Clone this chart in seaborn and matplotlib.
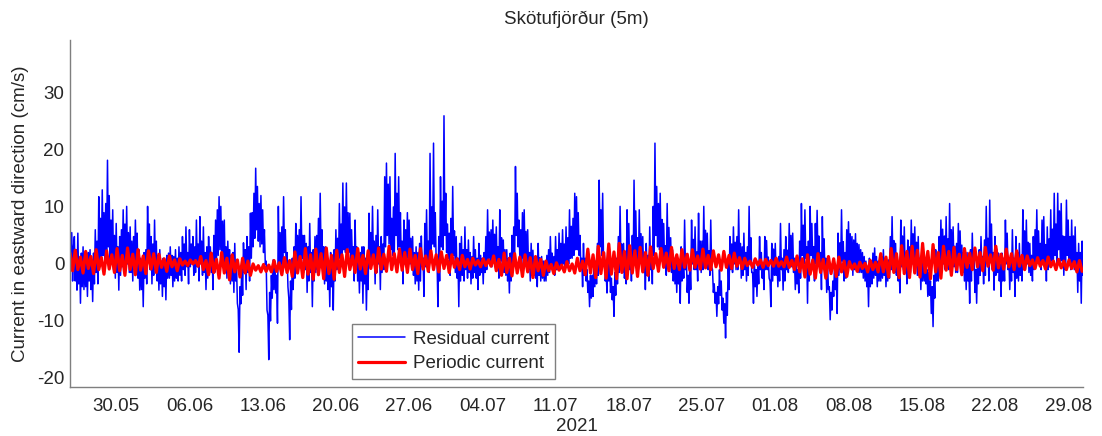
import numpy as np
import pandas as pd
import matplotlib
matplotlib.use("Agg")
import matplotlib.pyplot as plt
import seaborn as sns

# ---------------- data ----------------
title = "Skötufjörður (5m)"
ylabel = "Current in eastward direction (cm/s)"
xlabel = "2021"
series_names = ["Residual current", "Periodic current"]

# residual current, 2-hourly from 2021-05-25 14:00 (cm/s); one line per day
residual = [
    7.1, -1.0, 5.5, -3.0, 3.0,
    4.8, -3.0, 2.5, -4.6, 5.4, -3.5, 1.0, -6.9, 1.9, -4.0, 3.0, -4.5,
    1.3, -4.0, 0.5, -5.7, 2.0, -3.0, 2.5, -4.5, 0.0, -6.6, 1.9, -3.5,
    6.0, -1.5, 4.0, -3.5, 11.8, 0.5, 8.0, 1.0, 13.0, 1.5, 9.0, -0.5,
    10.6, 2.0, 18.2, 3.0, 12.0, 0.5, 7.7, 1.0, 9.5, -1.0, 5.0, -2.5,
    7.1, -1.5, 3.0, -4.6, 4.8, -2.0, 6.0, -0.5, 9.5, 0.0, 7.0, 0.0,
    10.1, 0.0, 5.5, -1.5, 6.5, -1.5, 4.0, -3.0, 4.8, -1.0, 7.7, 0.5,
    5.4, -2.5, 2.5, -4.6, 1.0, -4.5, 0.5, -7.5, 2.0, -2.5, 2.5, -3.5,
    10.1, 1.0, 7.0, -1.0, 4.8, -3.5, 3.5, -2.0, 7.7, -1.0, 4.0, -3.0,
    1.5, -4.6, 2.5, -3.5, 0.5, -5.7, 1.0, -4.0, 0.5, -6.3, 1.5, -2.5,
    1.9, -2.5, 3.0, -2.0, 1.5, -4.0, 1.3, -3.0, 2.5, -2.5, 1.0, -3.0,
    3.0, -2.0, 2.0, -3.0, 4.8, -1.0, 3.5, -2.0, 6.5, -0.5, 2.0, -3.5,
    6.0, -0.5, 3.5, 0.0, 4.8, -2.0, 3.0, -1.5, 7.7, -0.5, 3.5, -3.0,
    8.3, 0.0, 4.0, -2.0, 6.5, -1.5, 2.0, -4.5, 3.0, -2.5, 4.8, -0.5,
    3.0, -1.5, 1.9, -4.5, 5.0, -1.5, 7.7, 0.0, 9.5, 1.5, 11.8, 2.5,
    10.1, 1.5, 7.5, 1.0, 7.7, -1.0, 3.0, -2.5, 4.0, -1.5, 2.5, -3.5,
    1.5, -3.0, 2.0, -5.0, 3.6, -3.0, 0.0, -6.9, -8.0, -15.5, -4.0, -7.0,
    -0.5, -5.5, 3.7, -1.5, 2.5, -4.5, 4.8, -1.5, 3.0, -3.0, 8.9, 1.0,
    9.0, 3.0, 12.4, 4.5, 16.8, 6.0, 13.6, 4.0, 10.6, 3.0, 12.0, 3.5,
    9.5, 2.0, 6.0, 0.0, 0.5, -8.1, -9.0, -16.8, -5.0, -10.0, -2.0, -6.0,
    0.7, -4.5, 0.5, -5.1, -2.0, -10.4, 10.1, -0.5, 5.5, -1.5, 6.5, 0.0,
    11.8, 2.0, 6.0, -0.5, 2.0, -4.0, -6.0, -13.3, -3.0, -8.0, 1.0, -4.5,
    3.0, -2.5, 7.1, 0.0, 5.0, -1.0, 6.0, 0.0, 11.8, 1.0, 5.0, -1.5,
    5.0, -1.0, 3.6, -5.0, 3.0, -3.0, 7.1, -1.5, 2.0, -7.5, 2.5, -3.0,
    4.8, -1.5, 5.0, -1.0, 8.0, 0.0, 12.4, 1.5, 6.0, -1.5, 3.0, -3.5,
    3.0, -3.0, 1.5, -4.5, 0.0, -7.5, 2.0, -4.0, -1.5, -8.1, 2.5, -3.0,
    6.0, -1.0, 4.5, -1.0, 10.6, 1.0, 7.0, 1.5, 14.2, 2.5, 10.0, 2.0,
    14.2, 2.5, 9.0, 2.0, 8.9, 0.5, 6.0, 0.0, 3.0, -3.0, 7.7, 0.0,
    3.0, -3.0, 1.0, -5.1, 2.0, -3.0, 3.0, -6.9, 3.0, -3.5, 1.0, -8.1,
    0.7, -4.5, 8.9, 0.0, 5.5, 0.0, 10.1, 1.0, 4.0, -3.5, 5.0, -1.5,
    9.5, 0.0, 3.0, -4.5, 4.8, -1.5, 3.5, -1.0, 15.3, 3.0, 17.7, 5.0,
    14.0, 3.5, 15.3, 2.5, 8.0, 1.5, 10.0, 1.5, 19.4, 5.0, 12.4, 2.5,
    15.3, 3.0, 9.0, 0.0, 4.0, -3.5, 7.7, 0.0, 6.0, 0.0, 9.0, 1.0,
    7.7, 0.0, 4.5, -1.0, 4.8, -2.0, 2.0, -3.5, 3.0, -3.0, 2.0, -4.6,
    3.6, -3.0, 4.9, -0.5, 1.0, -5.7, 7.1, -0.5, 9.5, 0.0, 4.0, -1.5,
    19.4, 2.5, 10.0, 3.5, 21.2, 3.0, 9.0, 0.5, 1.0, -7.5, 4.8, -3.0,
    15.3, 3.0, 11.0, 2.5, 26.0, 5.0, 12.4, 2.0, 7.0, 1.0, 5.4, -2.0,
    8.0, 0.5, 13.6, 1.5, 5.8, -1.5, 4.8, -2.5, 1.0, -7.5, 3.6, -3.0,
    4.8, -2.0, 2.5, -3.0, 6.5, -1.0, 2.5, -2.5, 4.2, -1.5, 2.0, -3.5,
    1.3, -2.5, 4.8, -1.5, 2.5, -2.5, 1.0, -4.5, 3.6, -2.0, 1.5, -1.5,
    1.0, -3.5, 2.0, -1.5, 4.8, -1.0, 9.5, 1.0, 5.6, 0.0, 6.0, -0.5,
    7.7, 0.5, 5.2, 0.0, 6.5, -1.0, 3.0, -2.5, 9.5, 0.5, 4.6, -1.0,
    4.2, -1.5, 2.5, -2.0, 2.5, -3.0, 1.0, -5.1, 1.9, -3.0, 5.0, -0.5,
    6.5, 0.0, 17.1, 5.0, 12.4, 3.0, 7.7, 1.0, 6.0, 0.0, 9.0, 1.0,
    9.5, 1.0, 5.7, 0.0, 6.0, -1.0, 2.0, -3.0, 3.6, -2.0, 2.4, -2.0,
    1.0, -2.5, 0.5, -4.0, 3.6, -2.0, 1.1, -3.0, 1.3, -2.5, 0.5, -3.0,
    0.5, -3.0, 1.5, -2.0, 2.5, -1.5, 4.8, -0.5, 1.9, -1.5, 1.3, -2.0,
    4.8, -1.0, 2.5, -1.0, 5.4, -0.5, 3.6, -0.5, 6.0, 0.0, 3.5, -1.0,
    6.5, 0.0, 4.6, 0.0, 9.5, 1.0, 6.6, 1.0, 8.0, 1.5, 12.4, 2.5,
    11.8, 2.5, 9.0, 1.5, 5.0, -1.0, 1.0, -4.0, 3.6, -2.0, 1.0, -3.0,
    -1.0, -5.0, -3.0, -7.5, -2.0, -6.0, -2.0, -5.7, 0.7, -4.0, 0.5, -3.5,
    3.6, -2.0, 14.7, 3.0, 9.5, 1.5, 12.4, 0.5, 2.0, -3.0, -1.5, -5.1,
    2.5, -3.0, 0.5, -5.0, -2.5, -6.3, -4.0, -9.2, -1.5, -5.5, 1.0, -3.5,
    4.8, -1.5, 10.1, 0.0, 3.5, -1.5, 3.6, -2.5, 1.0, -3.5, 9.5, 0.0,
    7.1, -1.0, 2.6, -3.0, 5.0, -1.0, 14.7, 2.5, 9.3, 0.5, 4.6, -1.0,
    9.5, 0.5, 5.3, -0.5, 4.8, -1.5, 1.5, -4.5, 3.6, -2.0, 1.5, -3.0,
    6.5, -1.0, 3.0, -3.5, 10.1, 1.5, 21.2, 5.0, 13.6, 3.0, 10.6, 2.5,
    12.4, 2.5, 7.8, 0.5, 7.1, 0.0, 3.2, -2.0, 10.6, 0.5, 6.4, 0.0,
    4.6, -1.5, 2.5, -3.0, 1.0, -3.5, 0.0, -5.0, 1.0, -3.5, 0.0, -6.9,
    3.0, -3.0, 1.5, -2.5, 7.7, -1.0, 1.4, -5.0, -2.0, -6.9, 0.0, -4.5,
    7.7, 0.0, 4.3, -1.0, 6.5, -1.0, 2.1, -3.0, 8.9, 0.0, 4.0, -1.5,
    4.0, -1.0, 10.1, 0.5, 5.9, 0.0, 5.4, -1.0, 2.3, -2.0, 7.7, -0.5,
    -1.0, -5.0, -3.5, -6.9, -5.0, -9.2, -4.0, -7.0, -1.0, -5.5, -3.0, -8.1,
    -6.0, -10.4, -7.0, -13.0, -5.0, -9.0, 0.7, -4.5, 4.8, -1.0, 3.5, -1.5,
    6.5, 0.0, 3.8, -1.0, 4.8, -1.0, 9.5, 0.5, 3.6, -2.5, 3.0, -2.0,
    5.4, -1.0, 2.0, -3.0, 3.0, -2.0, 10.1, 0.5, 4.6, -1.5, -1.5, -6.9,
    0.7, -4.0, -1.0, -5.7, 0.0, -3.5, 4.8, -1.0, 2.0, -2.5, 0.0, -4.5,
    4.8, -1.0, 4.1, -1.0, 1.2, -2.5, -3.0, -7.5, 3.6, -3.0, 2.6, -2.0,
    3.6, -2.0, 0.5, -4.0, 1.3, -3.0, 7.1, -1.0, 1.0, -4.6, 2.5, -3.0,
    4.8, -1.0, 2.4, -1.5, 7.1, 0.0, 5.0, -0.5, 5.4, -1.5, 1.0, -4.5,
    0.0, -3.5, -1.0, -5.1, 4.0, -2.5, 10.6, 1.5, 6.8, 0.0, 9.5, 1.0,
    3.0, -6.9, 4.0, -3.0, 10.1, 1.5, 7.1, 0.0, 3.0, -3.0, 7.1, 0.0,
    9.4, 1.0, 4.9, -1.0, 2.0, -4.5, 8.3, 0.0, 4.4, -1.5, 1.0, -5.0,
    0.0, -4.5, -4.0, -9.8, -5.0, -8.1, -3.0, -5.7, 0.1, -4.5, -2.0, -8.7,
    5.4, -2.0, 3.7, -1.0, 9.5, 0.5, 3.9, -3.0, 2.0, -2.5, 6.0, -0.5,
    7.4, 0.5, 5.3, -0.5, 4.8, -2.0, 4.2, -1.0, 5.3, -0.5, 3.6, -1.5,
    3.4, -1.5, 2.5, -1.5, 2.0, -2.5, 1.3, -3.0, 0.5, -4.0, -1.0, -7.5,
    1.0, -4.0, 0.5, -3.5, 1.9, -2.5, 2.8, -2.0, 1.3, -4.0, 0.5, -3.0,
    0.6, -3.0, 1.3, -2.5, 2.5, -2.0, 1.0, -4.0, 0.5, -3.0, 0.7, -2.5,
    4.8, -1.0, 8.3, 0.0, 4.1, -1.5, 3.6, -2.0, 1.3, -3.0, 0.0, -5.1,
    7.7, -0.5, 4.9, -1.0, 6.5, -1.0, 2.0, -3.5, 4.2, -1.5, 3.0, -1.5,
    7.7, 0.0, 5.3, 0.0, 6.5, -0.5, 3.8, -2.0, 4.8, -2.0, 1.0, -4.5,
    1.0, -3.0, 1.6, -3.0, 0.5, -3.5, -1.0, -5.7, -1.5, -5.5, -3.0, -8.7,
    -4.0, -11.0, -2.0, -6.0, 2.5, -3.0, 1.1, -3.0, 4.8, -1.0, 7.7, 0.0,
    6.1, 0.0, 4.9, -1.0, 8.3, 0.0, 4.4, -1.0, 10.6, 0.5, 6.0, -0.5,
    6.5, -0.5, 3.1, -1.5, 3.6, -1.5, 7.1, 0.0, 5.8, -0.5, 3.3, -1.5,
    2.0, -3.0, 1.0, -4.5, 2.0, -3.0, 0.0, -6.9, 2.5, -3.0, 5.4, -1.0,
    2.0, -5.0, -1.0, -6.9, 0.7, -3.5, 2.5, -2.0, 4.8, -1.0, 1.3, -3.5,
    4.2, -2.0, 10.1, 0.5, 4.5, -3.0, 11.2, 0.5, 7.0, -1.0, 2.0, -4.6,
    4.8, -2.0, 2.6, -1.5, 1.9, -3.0, 0.0, -5.7, 1.9, -3.0, 1.0, -3.0,
    7.7, 0.0, 5.4, -1.0, 1.0, -4.5, 1.5, -3.0, 6.0, -1.5, 1.0, -5.7,
    4.8, -2.5, 2.0, -3.0, 3.6, -2.0, 1.0, -3.0, 9.5, 0.5, 5.8, -1.0,
    7.7, 0.0, 3.8, -1.5, 3.6, -2.0, 1.5, -3.0, 4.8, -1.0, 6.0, 0.0,
    9.5, 0.5, 5.8, 0.0, 3.6, -1.0, 7.7, 0.0, 8.3, 0.0, 3.4, -3.0,
    6.5, -1.0, 4.4, 0.0, 9.5, 0.5, 6.1, 0.0, 12.4, 1.5, 7.0, 0.0,
    12.4, 2.5, 9.3, 0.5, 10.6, 0.5, 4.9, -2.0, 4.8, -1.0, 11.2, 1.5,
    7.7, 0.0, 4.8, -1.0, 7.7, 0.0, 4.9, -1.0, 6.5, -1.0, 2.0, -5.0,
    3.6, -3.0, 2.0, -6.9, 4.0, -2.0,
]

# periodic (tidal) current, 6-hourly from 2021-05-25 14:00 (cm/s); one line per day
periodic = [
    1.9, -1.2,
    2.4, -1.0, 1.2, -1.6,
    2.2, -0.8, 1.3, -1.7,
    2.5, -1.0, 1.1, -1.8,
    2.3, -0.9, 1.6, -1.5,
    2.7, -1.2, 1.5, -2.0,
    2.8, -1.0, 1.7, -1.9,
    2.5, -1.1, 1.4, -1.7,
    2.3, -0.9, 1.8, -1.5,
    1.7, -0.6, 0.9, -1.3,
    1.4, -0.5, 0.7, -1.2,
    0.9, -0.2, 0.5, -0.3,
    0.7, 0.0, 0.6, -0.4,
    1.3, -1.0, 0.6, -1.9,
    1.9, -1.5, 0.8, -2.5,
    2.0, -1.6, 1.0, -2.8,
    1.6, -1.4, 0.7, -2.3,
    1.0, -1.6, 0.5, -2.0,
    0.0, -1.1, -0.3, -1.4,
    -0.1, -1.3, -0.2, -1.4,
    0.6, -1.3, 0.2, -1.9,
    1.1, -1.5, 0.6, -2.2,
    2.1, -1.6, 1.3, -2.4,
    2.7, -1.8, 1.6, -2.7,
    2.6, -1.9, 1.8, -2.6,
    2.8, -1.7, 1.5, -2.7,
    2.4, -1.5, 1.6, -2.2,
    2.5, -1.0, 1.4, -1.5,
    2.7, -0.9, 1.5, -1.7,
    2.3, -0.8, 1.6, -1.5,
    2.8, -0.9, 1.7, -1.3,
    3.1, -1.0, 1.8, -1.4,
    2.6, -1.1, 2.0, -1.5,
    2.6, -1.0, 1.5, -1.7,
    2.7, -0.9, 1.4, -1.3,
    2.3, -1.0, 1.6, -1.4,
    2.1, -0.8, 1.5, -1.5,
    1.6, -0.6, 0.9, -1.0,
    1.5, -0.5, 0.8, -0.9,
    1.0, -0.2, 0.6, -0.5,
    0.9, -0.3, 0.7, -0.4,
    1.4, -1.2, 0.8, -2.0,
    1.9, -1.5, 1.0, -2.1,
    1.8, -1.6, 1.2, -2.2,
    1.6, -1.4, 1.1, -2.4,
    1.3, -1.2, 0.8, -2.0,
    0.5, -1.2, -0.1, -1.7,
    0.2, -1.1, -0.2, -1.4,
    0.4, -1.2, 0.0, -1.6,
    1.0, -1.2, 0.5, -1.9,
    2.6, -1.6, 1.6, -2.4,
    3.1, -1.7, 2.0, -2.5,
    3.5, -1.8, 2.1, -2.6,
    3.6, -1.5, 2.2, -2.6,
    3.2, -1.6, 2.3, -2.2,
    2.9, -1.4, 2.0, -2.0,
    3.0, -0.8, 1.8, -1.3,
    2.7, -0.6, 1.9, -1.2,
    2.9, -0.8, 1.6, -1.0,
    2.5, -0.6, 1.7, -1.1,
    2.5, -0.6, 1.4, -0.9,
    2.6, -0.7, 1.5, -1.0,
    2.3, -0.5, 1.6, -1.1,
    2.2, -0.6, 1.5, -0.8,
    1.9, -0.4, 1.1, -0.8,
    1.0, -0.3, 0.5, -0.6,
    0.9, -0.2, 0.7, -0.6,
    0.8, -0.3, 0.6, -0.4,
    1.0, -0.4, 0.4, -0.5,
    1.2, -0.6, 0.6, -1.0,
    1.4, -1.4, 0.9, -2.3,
    1.6, -1.8, 0.7, -2.5,
    1.8, -1.5, 0.8, -2.5,
    1.3, -1.7, 0.9, -2.2,
    1.2, -1.4, 0.5, -2.2,
    0.4, -0.9, 0.0, -1.3,
    0.3, -0.8, 0.1, -1.4,
    0.6, -1.0, 0.3, -1.4,
    1.8, -1.4, 1.2, -2.3,
    2.7, -1.5, 1.8, -2.4,
    3.2, -1.7, 2.2, -2.4,
    3.1, -1.6, 2.4, -2.3,
    3.6, -1.5, 2.2, -2.6,
    3.4, -1.4, 2.0, -2.5,
    3.1, -1.1, 2.2, -2.0,
    2.9, -1.0, 1.7, -1.9,
    2.7, -0.6, 1.9, -1.0,
    2.8, -0.5, 2.0, -1.2,
    2.9, -0.4, 1.6, -1.1,
    3.1, -0.7, 1.7, -0.9,
    2.6, -0.5, 1.8, -1.0,
    2.3, -0.4, 1.5, -1.0,
    1.4, -0.3, 0.7, -0.8,
    1.1, -0.4, 0.6, -0.9,
    1.2, -0.5, 0.5, -1.0,
    0.8, -0.7, 0.5, -1.0,
    0.7, -0.8, 0.4, -1.4,
    0.6, -1.3,
]

start_time = "2021-05-25 14:00"
x_start, x_end = "2021-05-25 14:00", "2021-08-30 10:00"
xtick_dates = ["30.05", "06.06", "13.06", "20.06", "27.06", "04.07", "11.07",
               "18.07", "25.07", "01.08", "08.08", "15.08", "22.08", "29.08"]
yticks = [-20, -10, 0, 10, 20, 30]
ylim = (-21.6, 39.3)

# ---------------- figure ----------------
sns.set_style("white")
plt.rcParams["font.family"] = ["Liberation Sans", "DejaVu Sans"]
FS = 13.5

df_res = pd.DataFrame({
    "time": pd.date_range(start_time, periods=len(residual), freq="2h"),
    "value": residual})
df_per = pd.DataFrame({
    "time": pd.date_range(start_time, periods=len(periodic), freq="6h"),
    "value": periodic})

fig = plt.figure(figsize=(11.02, 4.36), dpi=100)
ax = fig.add_axes([70 / 1102, 1 - 387 / 436, (1083 - 70) / 1102, (387 - 40) / 436])

sns.lineplot(data=df_res, x="time", y="value", ax=ax, color="#0000ff",
             lw=1.1, label=series_names[0], estimator=None)
sns.lineplot(data=df_per, x="time", y="value", ax=ax, color="#ff0000",
             lw=2.3, label=series_names[1], estimator=None)

ax.set_xlim(pd.Timestamp(x_start), pd.Timestamp(x_end))
ax.set_ylim(*ylim)
ax.set_yticks(yticks)
ax.set_yticklabels([str(v) for v in yticks])
tick_pos = [pd.Timestamp(f"2021-{d[3:5]}-{d[0:2]}") for d in xtick_dates]
ax.set_xticks(tick_pos)
ax.set_xticklabels(xtick_dates)

for s in ["top", "right"]:
    ax.spines[s].set_visible(False)
for s in ["left", "bottom"]:
    ax.spines[s].set_color("#7f7f7f")
    ax.spines[s].set_linewidth(1.0)

ax.tick_params(axis="both", direction="in", length=7, width=1.0,
               color="#7f7f7f", labelsize=FS, labelcolor="#262626")
ax.tick_params(axis="x", pad=8)
ax.tick_params(axis="y", pad=4)

ax.set_title(title, fontsize=FS, color="#262626", pad=11.5)
ax.set_ylabel(ylabel, fontsize=FS, color="#262626", labelpad=6)
ax.set_xlabel(xlabel, fontsize=FS, color="#262626", labelpad=2)

leg = ax.legend(loc="lower left", bbox_to_anchor=(0.278, 0.023), borderaxespad=0,
                fontsize=FS, frameon=True, fancybox=False, handlelength=2.5,
                handletextpad=0.4, borderpad=0.35, labelspacing=0.4)
leg.get_frame().set_edgecolor("#7f7f7f")
leg.get_frame().set_linewidth(1.0)
leg.get_frame().set_alpha(1.0)

fig.savefig("out.png", dpi=100)
